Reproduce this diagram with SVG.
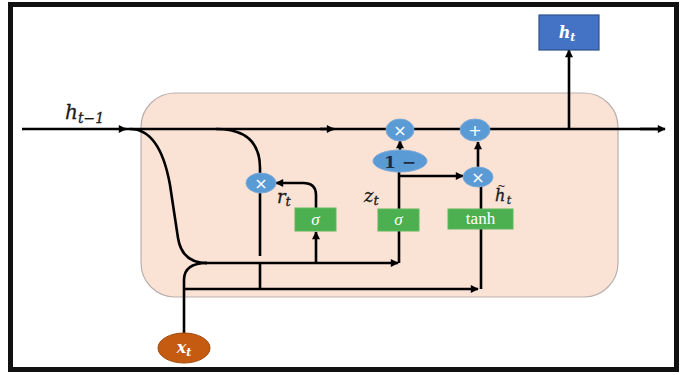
<svg xmlns="http://www.w3.org/2000/svg" width="686" height="375" viewBox="0 0 686 375">
<defs>
<marker id="ah" viewBox="0 0 10 10" refX="9" refY="5" markerWidth="9" markerHeight="8" markerUnits="userSpaceOnUse" orient="auto">
<path d="M0,0 L10,5 L0,10 z" fill="#000"/>
</marker>
<style>
.ln{fill:none;stroke:#000;stroke-width:2.6;}
.arr{fill:none;stroke:#000;stroke-width:2.6;marker-end:url(#ah);}
.op{fill:#5b9bd5;stroke:#7fa9d8;stroke-width:1;}
.opt{fill:#fff;font-family:"DejaVu Sans",sans-serif;font-size:16px;text-anchor:middle;}
.gate{fill:#4caf50;stroke:#5fb760;stroke-width:1;}
.gt{fill:#fff;font-family:"Liberation Serif",serif;font-size:17px;text-anchor:middle;}
.lab{fill:#1a1a1a;font-family:"DejaVu Serif",serif;font-style:italic;stroke:#1a1a1a;stroke-width:0.3;}
</style>
</defs>
<rect x="10.5" y="4.5" width="666" height="365" fill="#fff" stroke="#111" stroke-width="5"/>
<rect id="cell" x="141" y="93" width="477" height="204" rx="34" ry="34" fill="#fae2d4" stroke="#b9b0ae" stroke-width="1.2"/>
<g id="connectors">
<line class="arr" x1="22" y1="129" x2="126" y2="129"/>
<line class="ln" x1="124" y1="129" x2="662" y2="129"/>
<line class="arr" x1="320" y1="129" x2="334" y2="129"/>
<line class="arr" x1="640" y1="129" x2="665" y2="129"/>
<path class="ln" d="M130,129 Q160,129 170,185 L178,238 Q182,263 207,263"/>
<path class="ln" d="M184,333 L184,280 Q184,263 207,263"/>
<line class="arr" x1="205" y1="263" x2="398" y2="263"/>
<line class="arr" x1="184" y1="289" x2="478" y2="289"/>
<path class="ln" d="M216,129 Q260,129 260,168 L260,175"/>
<line class="ln" x1="260" y1="190" x2="260" y2="256"/>
<line class="ln" x1="260" y1="263" x2="260" y2="289"/>
<line class="arr" x1="316" y1="263" x2="316" y2="232"/>
<path class="arr" d="M316,208 L316,195 Q316,183 303,183 L276,183"/>
<line class="ln" x1="399" y1="263" x2="399" y2="170"/>
<line class="arr" x1="400" y1="150" x2="400" y2="141"/>
<line class="arr" x1="399" y1="176" x2="463" y2="176"/>
<line class="ln" x1="481" y1="289" x2="481" y2="186"/>
<line class="arr" x1="478" y1="168" x2="478" y2="142"/>
<line class="arr" x1="569" y1="129" x2="569" y2="50"/>
</g>
<g id="mul_r"><ellipse class="op" cx="261" cy="183" rx="15" ry="10"/><text class="opt" x="261" y="189">×</text></g>
<g id="mul_z"><ellipse class="op" cx="400" cy="130" rx="14" ry="11"/><text class="opt" x="400" y="136">×</text></g>
<g id="add"><ellipse class="op" cx="475" cy="130" rx="15" ry="11"/><text class="opt" x="475" y="136">+</text></g>
<g id="one_minus"><ellipse class="op" cx="400" cy="161" rx="27" ry="11"/><text x="400" y="168" fill="#1f2a44" font-family="DejaVu Serif,serif" font-size="17" font-weight="bold" text-anchor="middle">1 −</text></g>
<g id="mul_h"><ellipse class="op" cx="478" cy="177" rx="15" ry="10"/><text class="opt" x="478" y="183">×</text></g>
<g id="sigma_r"><rect class="gate" x="295" y="208" width="41" height="23"/><text class="gt" x="315.5" y="225" font-style="italic">σ</text></g>
<g id="sigma_z"><rect class="gate" x="378" y="209" width="41" height="22"/><text class="gt" x="398.5" y="225" font-style="italic">σ</text></g>
<g id="tanh"><rect class="gate" x="448" y="209" width="65" height="20"/><text class="gt" x="480.5" y="224">tanh</text></g>
<g id="h_out"><rect x="539" y="15" width="60" height="35" fill="#4472c4" stroke="#2f528f" stroke-width="1.2"/><text x="567" y="38" fill="#fff" font-family="DejaVu Serif,serif" font-style="italic" font-size="16" font-weight="bold" text-anchor="middle">h<tspan font-size="11" dy="3">t</tspan></text></g>
<g id="x_in"><ellipse cx="184" cy="348" rx="26" ry="15" fill="#c55a11" stroke="#a04808" stroke-width="1"/><text x="184" y="353" fill="#fff" font-family="DejaVu Serif,serif" font-style="italic" font-size="16" font-weight="bold" text-anchor="middle">x<tspan font-size="11" dy="3">t</tspan></text></g>
<g id="labels">
<text class="lab" x="65" y="119" font-size="20">h<tspan font-size="14" dy="4">t−1</tspan></text>
<text class="lab" x="277" y="203" font-size="18">r<tspan font-size="13" dy="3">t</tspan></text>
<text class="lab" x="364" y="202" font-size="18">z<tspan font-size="13" dy="3">t</tspan></text>
<text class="lab" x="495" y="201" font-size="16">h<tspan font-size="10" dx="-8" dy="-12" stroke-width="0">~</tspan><tspan font-size="11" dx="1" dy="15">t</tspan></text>
</g>
</svg>
